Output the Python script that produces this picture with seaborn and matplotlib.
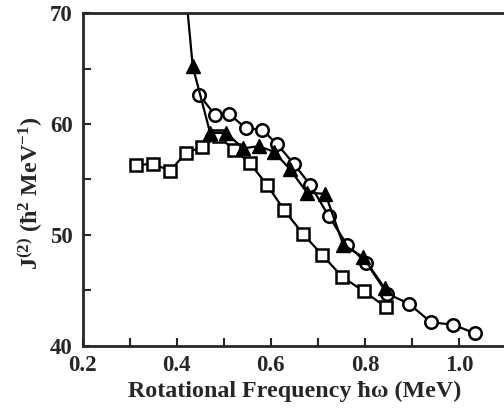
import numpy as np
import pandas as pd
import matplotlib
matplotlib.use("Agg")
import matplotlib.pyplot as plt
import seaborn as sns

sq_x = [0.314, 0.349, 0.386, 0.420, 0.453, 0.489, 0.521, 0.555, 0.592, 0.629, 0.668, 0.709, 0.752, 0.798, 0.844]
sq_y = [56.3, 56.4, 55.8, 57.4, 57.9, 58.9, 57.7, 56.5, 54.5, 52.2, 50.1, 48.2, 46.2, 44.9, 43.5]

ci_x = [0.448, 0.482, 0.512, 0.547, 0.581, 0.613, 0.649, 0.684, 0.723, 0.762, 0.803, 0.847, 0.893, 0.941, 0.987, 1.035]
ci_y = [62.6, 60.8, 60.9, 59.6, 59.5, 58.2, 56.4, 54.5, 51.7, 49.1, 47.5, 44.7, 43.8, 42.1, 41.9, 41.1]

tr_x = [0.400, 0.434, 0.471, 0.505, 0.541, 0.574, 0.607, 0.641, 0.677, 0.716, 0.754, 0.796, 0.842]
tr_y = [80.7, 65.2, 59.2, 59.2, 57.8, 58.0, 57.5, 55.9, 53.8, 53.7, 49.1, 48.0, 45.2]

sns.set_style("ticks")
plt.rcParams['font.family'] = ['Liberation Serif', 'DejaVu Serif']
plt.rcParams['font.weight'] = 'bold'
plt.rcParams['mathtext.fontset'] = 'custom'
plt.rcParams['mathtext.rm'] = 'Liberation Serif:bold'
plt.rcParams['mathtext.it'] = 'Liberation Serif:bold'
plt.rcParams['mathtext.bf'] = 'Liberation Serif:bold'
plt.rcParams['mathtext.default'] = 'rm'

fig = plt.figure(figsize=(5.04, 4.12), dpi=100)
ax = fig.add_axes([0.164, 0.161, 0.840, 0.807])

sns.lineplot(x=sq_x, y=sq_y, sort=False, ax=ax, color='black', lw=1.6,
             marker='s', markersize=8, markerfacecolor='white',
             markeredgecolor='black', markeredgewidth=1.8)
sns.lineplot(x=ci_x, y=ci_y, sort=False, ax=ax, color='black', lw=1.6,
             marker='o', markersize=9, markerfacecolor='white',
             markeredgecolor='black', markeredgewidth=1.8)
sns.lineplot(x=tr_x, y=tr_y, sort=False, ax=ax, color='black', lw=1.6,
             marker='^', markersize=10.5, markerfacecolor='black',
             markeredgecolor='black', markeredgewidth=1.0)

ax.set_xlim(0.2, 1.1)
ax.set_ylim(40, 70)
ax.set_xticks(np.arange(0.2, 1.05, 0.1))
ax.set_xticklabels(['0.2', '', '0.4', '', '0.6', '', '0.8', '', '1.0'])
ax.set_yticks([40, 45, 50, 55, 60, 65, 70])
ax.set_yticklabels(['40', '', '50', '', '60', '', '70'])
ax.tick_params(direction='in', length=6, width=1.5, labelsize=16.5, pad=7)

for s in ax.spines.values():
    s.set_linewidth(2)

ax.set_xlabel('Rotational Frequency ħω (MeV)', fontsize=17.3, fontweight='bold', labelpad=3)
ax.set_ylabel(r'J$^{(2)}$ (ħ$^{2}$ MeV$^{-1}$)', fontsize=17.3, fontweight='bold')
ax.yaxis.set_label_coords(-0.09, 0.458)

fig.savefig('out.png', dpi=100)
